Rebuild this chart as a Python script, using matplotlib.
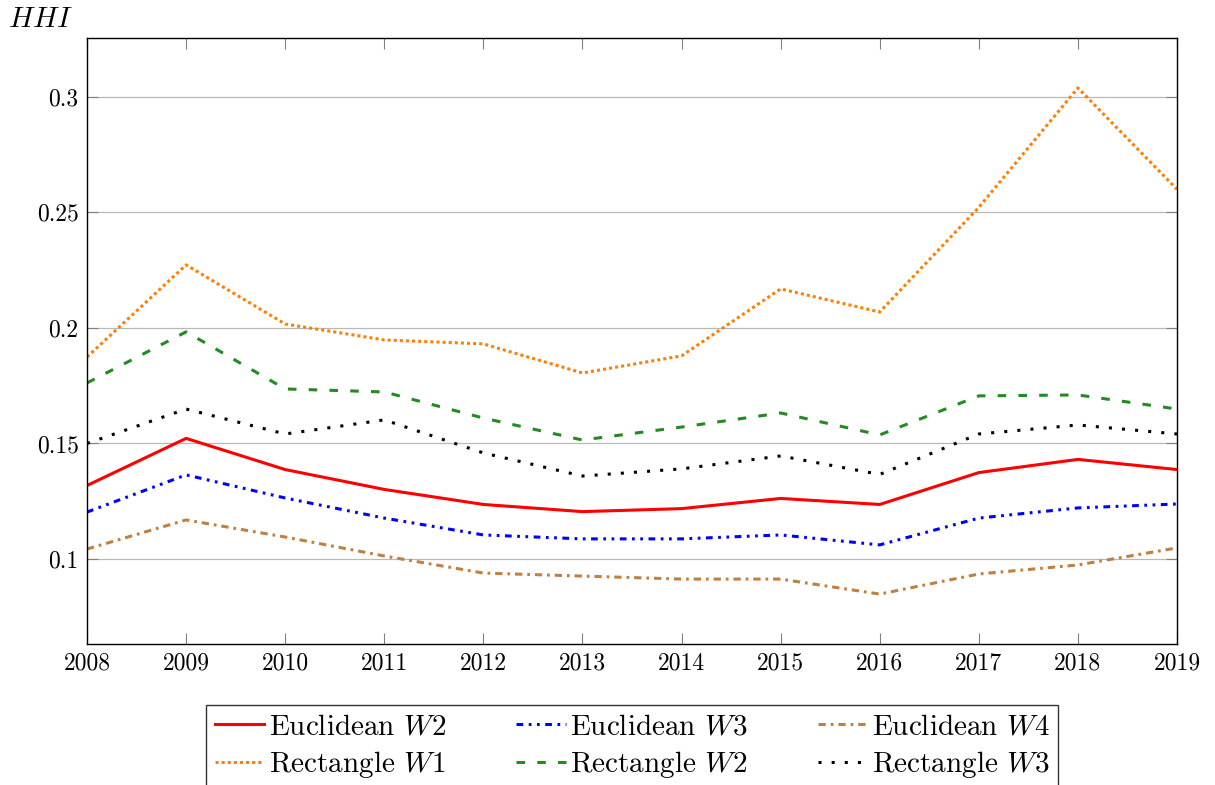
#!/usr/bin/env python3

import matplotlib
matplotlib.use('Agg')
import matplotlib.pyplot as plt
from matplotlib.ticker import FixedLocator

years = [2008, 2009, 2010, 2011, 2012, 2013, 2014, 2015, 2016, 2017, 2018, 2019]

euclid_w2 = [0.1318, 0.1522, 0.1387, 0.1301, 0.1236, 0.1205, 0.1218, 0.1262, 0.1236, 0.1374, 0.1431, 0.1387]
euclid_w3 = [0.1203, 0.1364, 0.1264, 0.1177, 0.1104, 0.1087, 0.1087, 0.1104, 0.1061, 0.1177, 0.1221, 0.1238]
euclid_w4 = [0.1043, 0.1169, 0.1095, 0.1013, 0.0939, 0.0926, 0.0913, 0.0913, 0.0848, 0.0935, 0.0974, 0.1048]
rect_w1 = [0.1874, 0.2273, 0.2017, 0.1948, 0.1931, 0.1805, 0.1879, 0.2169, 0.2069, 0.2522, 0.3039, 0.2600]
rect_w2 = [0.1762, 0.1983, 0.1736, 0.1723, 0.1610, 0.1515, 0.1571, 0.1632, 0.1537, 0.1706, 0.1710, 0.1649]
rect_w3 = [0.1500, 0.1649, 0.1541, 0.1602, 0.1459, 0.1359, 0.1390, 0.1446, 0.1366, 0.1541, 0.1580, 0.1541]

yticks = [0.1, 0.15, 0.2, 0.25, 0.3]
ytick_labels = ['0.1', '0.15', '0.2', '0.25', '0.3']

plt.rcParams['font.family'] = 'cmr10'
plt.rcParams['mathtext.fontset'] = 'cm'
plt.rcParams['axes.formatter.use_mathtext'] = True

fig = plt.figure(figsize=(12.15, 7.85), dpi=100)
ax = fig.add_axes([87/1215, 1-644/785, (1177-87)/1215, (644-38)/785])

lw = 2.2
ax.plot(years, euclid_w2, color='red', lw=lw, label=r'Euclidean $W2$')
ax.plot(years, rect_w1, color='#ff7f00', lw=lw, linestyle=(0, (1, 1)), label=r'Rectangle $W1$')
ax.plot(years, euclid_w3, color='blue', lw=lw, linestyle=(0, (2.2, 1.8, 0.9, 1.8, 0.9, 1.8)), label=r'Euclidean $W3$')
ax.plot(years, rect_w2, color='#228b22', lw=lw, linestyle=(0, (2.8, 4)), label=r'Rectangle $W2$')
ax.plot(years, euclid_w4, color='#c08040', lw=lw, linestyle=(0, (2.4, 1.6, 0.9, 1.6)), label=r'Euclidean $W4$')
ax.plot(years, rect_w3, color='black', lw=lw, linestyle=(0, (1, 3.3)), label=r'Rectangle $W3$')

ax.set_xlim(2008, 2019)
ax.set_ylim(0.0632, 0.3255)
ax.set_xticks(years)
ax.set_xticklabels([str(y) for y in years])
ax.yaxis.set_major_locator(FixedLocator(yticks))
ax.set_yticklabels(ytick_labels)
ax.grid(axis='y', color='#b8b8b8', lw=0.9)
ax.tick_params(direction='in', top=True, right=True, length=8, width=0.8,
               color='#808080', labelsize=17, pad=6)
for s in ax.spines.values():
    s.set_linewidth(1.0)

fig.text(8/1215, 1-20/785, r'$HHI$', fontsize=21, va='center', ha='left')

handles, labels = ax.get_legend_handles_labels()
leg = ax.legend(handles, labels, loc='upper center', bbox_to_anchor=(0.5, -0.1007),
                borderaxespad=0, ncol=3, fontsize=21, frameon=True, fancybox=False,
                edgecolor='black', handlelength=1.7, handletextpad=0.15,
                columnspacing=2.4, borderpad=0.3, labelspacing=0.3)
leg.get_frame().set_linewidth(1.0)

fig.savefig('out.png', dpi=100)
